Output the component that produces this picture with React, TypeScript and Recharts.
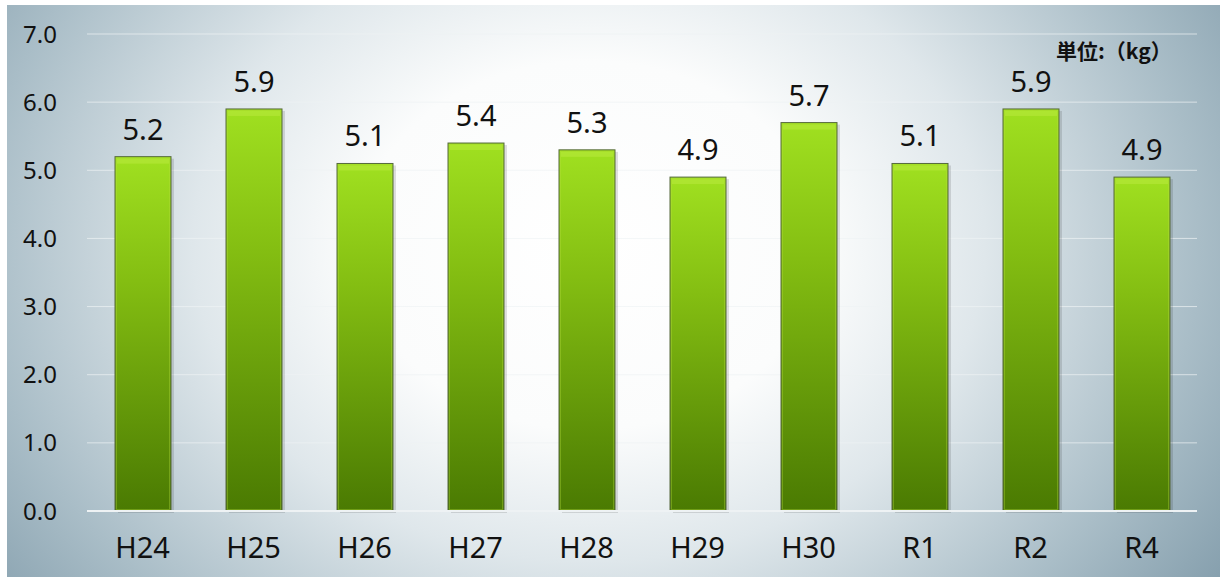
import { BarChart, Bar, XAxis, YAxis, CartesianGrid, LabelList } from 'recharts';

// 年度ごとの値 (kg)
const years = ['H24', 'H25', 'H26', 'H27', 'H28', 'H29', 'H30', 'R1', 'R2', 'R4'];
const amounts = [5.2, 5.9, 5.1, 5.4, 5.3, 4.9, 5.7, 5.1, 5.9, 4.9];
const yTicks = [0, 1, 2, 3, 4, 5, 6, 7];
const unitLabel = '単位:（kg）';

const chartData = years.map((year, i) => ({ year, value: amounts[i] }));

const FONT = '"Noto Sans", sans-serif';

// bevelled green bar
const GreenBar = (props: any) => {
    const { x, y, width, height } = props;
    if (!height || height <= 0) return null;
    return (
        <g>
            <rect x={x + 3} y={y + 2} width={width} height={height} fill="#000" opacity={0.12} />
            <rect x={x} y={y} width={width} height={height} fill="url(#barGrad)" stroke="#56693c" strokeWidth={1} />
            <rect x={x + 2} y={y + 2} width={width - 4} height={5} fill="#c8f050" opacity={0.35} />
            <rect x={x + 1.5} y={y + 1.5} width={width - 3} height={height - 3} fill="none" stroke="#b8e040" strokeOpacity={0.35} />
        </g>
    );
};

export default function App() {
    return (
        <div style={{ position: 'absolute', left: 7, top: 5, width: 1213, height: 572, fontFamily: FONT,
            background: 'radial-gradient(ellipse 68% 115% at 48% 42%, #ffffff 0%, #fbfcfc 28%, #dfe7eb 48%, #a9bdc7 74%, #7692a2 100%)' }}>
            <BarChart width={1213} height={572} data={chartData}
                margin={{ top: 29, right: 23, left: 0, bottom: 0 }} barSize={56}>
                <defs>
                    <linearGradient id="barGrad" x1="0" y1="0" x2="0" y2="1">
                        <stop offset="0%" stopColor="#a0e020" />
                        <stop offset="35%" stopColor="#84be12" />
                        <stop offset="100%" stopColor="#4a7a02" />
                    </linearGradient>
                </defs>
                <CartesianGrid vertical={false} stroke="#eef2f4" strokeOpacity={0.7} />
                <XAxis dataKey="year" height={66} tickLine={false} axisLine={{ stroke: '#eef2f4', strokeWidth: 2 }}
                    tick={{ fill: '#111', fontSize: 29, fontFamily: FONT }} tickMargin={20} />
                <YAxis width={80} domain={[0, 7]} ticks={yTicks} tickLine={false} axisLine={false} tickSize={0}
                    tickMargin={30} tickFormatter={(v: number) => v.toFixed(1)}
                    tick={{ fill: '#111', fontSize: 24, fontFamily: FONT }} />
                <Bar dataKey="value" shape={<GreenBar />} isAnimationActive={false}>
                    <LabelList dataKey="value" position="top" offset={17} fill="#111"
                        style={{ fontSize: 29, fontFamily: FONT }}
                        formatter={(v: any) => Number(v).toFixed(1)} />
                </Bar>
            </BarChart>
            <div style={{ position: 'absolute', left: 1049, top: 30, fontSize: 21, fontWeight: 'bold', color: '#111',
                fontFamily: '"Noto Sans CJK JP", sans-serif', whiteSpace: 'nowrap' }}>
                {unitLabel}
            </div>
        </div>
    );
}
